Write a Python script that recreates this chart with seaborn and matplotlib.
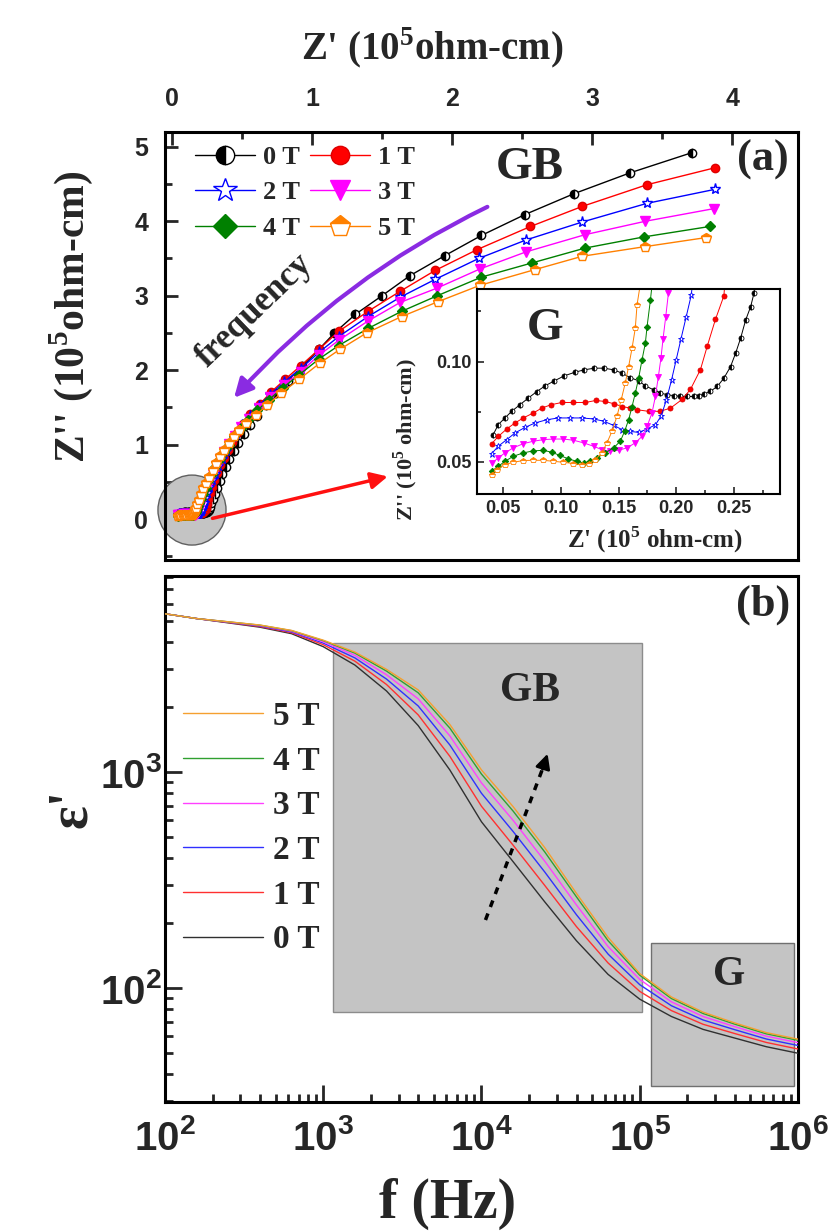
import numpy as np
import pandas as pd
import matplotlib
matplotlib.use('Agg')
import matplotlib.pyplot as plt
import seaborn as sns
from matplotlib.lines import Line2D
from matplotlib.patches import Ellipse, Rectangle, FancyArrowPatch
from matplotlib.ticker import MultipleLocator, FormatStrFormatter
from matplotlib import font_manager

# ---- panel (a): Nyquist data, Z' and Z'' in 10^5 ohm-cm ----
fields = ['0 T', '1 T', '2 T', '3 T', '4 T', '5 T']

zre_0 = [0.0413, 0.0457, 0.0515, 0.0573, 0.0645, 0.0717, 0.079, 0.0863, 0.0944, 0.103, 0.1123, 0.1204,
         0.1291, 0.137, 0.1457, 0.153, 0.160, 0.1674, 0.1732, 0.1804, 0.1863, 0.192, 0.1978, 0.2036,
         0.2094, 0.2152, 0.2196, 0.224, 0.2297, 0.2356, 0.2413, 0.2471, 0.2515, 0.2558, 0.2602, 0.2645, 0.2674,
         0.272, 0.28, 0.29, 0.305, 0.32, 0.34, 0.36, 0.385, 0.41, 0.44, 0.475, 0.515, 0.56, 0.61, 0.67,
         0.745, 0.825, 0.93, 1.05, 1.16, 1.31, 1.50, 1.70, 1.95, 2.21, 2.52, 2.87, 3.27, 3.71]
zim_0 = [0.0636, 0.0686, 0.0719, 0.0752, 0.0785, 0.0818, 0.085, 0.0879, 0.0904, 0.0929, 0.0947, 0.0959,
         0.0967, 0.0967, 0.0959, 0.0942, 0.092, 0.0904, 0.0879, 0.0859, 0.0843, 0.0835, 0.083, 0.0827,
         0.0826, 0.0826, 0.083, 0.0837, 0.0852, 0.0876, 0.0917, 0.0975, 0.1042, 0.1116, 0.1207, 0.1273, 0.134,
         0.16, 0.21, 0.27, 0.34, 0.42, 0.51, 0.60, 0.70, 0.80, 0.91, 1.02, 1.14, 1.26, 1.39, 1.53,
         1.69, 1.86, 2.05, 2.28, 2.50, 2.75, 3.00, 3.27, 3.54, 3.81, 4.09, 4.37, 4.65, 4.92]

zre_1 = [0.0399, 0.0457, 0.053, 0.0602, 0.0674, 0.0761, 0.0834, 0.0915, 0.1008, 0.1109, 0.121, 0.1303,
         0.1384, 0.1457, 0.153, 0.1603, 0.166, 0.176, 0.186, 0.195, 0.205, 0.2123, 0.221, 0.2268, 0.234, 0.2413,
         0.245, 0.25, 0.26, 0.27, 0.285, 0.30, 0.32, 0.345, 0.37, 0.40, 0.43, 0.465, 0.51, 0.56, 0.63,
         0.71, 0.81, 0.92, 1.05, 1.19, 1.40, 1.63, 1.88, 2.18, 2.56, 2.93, 3.39, 3.88]
zim_1 = [0.059, 0.0627, 0.0664, 0.0694, 0.0719, 0.0744, 0.0768, 0.0785, 0.0796, 0.0796, 0.0796, 0.0806,
         0.0801, 0.079, 0.0776, 0.0768, 0.076, 0.0752, 0.0752, 0.0768, 0.0811, 0.0861, 0.096, 0.1075, 0.121, 0.1327,
         0.16, 0.20, 0.27, 0.35, 0.43, 0.52, 0.62, 0.72, 0.82, 0.93, 1.04, 1.16, 1.28, 1.41, 1.55,
         1.71, 1.88, 2.06, 2.28, 2.52, 2.79, 3.06, 3.34, 3.62, 3.93, 4.20, 4.49, 4.72]

zre_2 = [0.0399, 0.0457, 0.053, 0.0602, 0.0689, 0.0776, 0.0877, 0.0978, 0.108, 0.1182, 0.1283, 0.137,
         0.1457, 0.153, 0.1602, 0.1674, 0.1747, 0.182, 0.187, 0.1915, 0.196, 0.200, 0.204, 0.2085, 0.213,
         0.22, 0.227, 0.237, 0.25, 0.265, 0.285, 0.305, 0.33, 0.355, 0.385, 0.415, 0.455, 0.50, 0.555, 0.62,
         0.70, 0.80, 0.92, 1.05, 1.19, 1.40, 1.63, 1.88, 2.19, 2.53, 2.93, 3.39, 3.88]
zim_2 = [0.0541, 0.0578, 0.0611, 0.0644, 0.0672, 0.0694, 0.071, 0.0719, 0.0719, 0.0719, 0.0714, 0.0703,
         0.0682, 0.0661, 0.0652, 0.0647, 0.0664, 0.0685, 0.073, 0.081, 0.091, 0.101, 0.111, 0.122, 0.133,
         0.17, 0.21, 0.28, 0.35, 0.43, 0.52, 0.61, 0.71, 0.81, 0.92, 1.03, 1.14, 1.26, 1.38, 1.52,
         1.67, 1.84, 2.02, 2.24, 2.45, 2.72, 2.98, 3.22, 3.50, 3.75, 3.99, 4.24, 4.43]

zre_3 = [0.0404, 0.0457, 0.0515, 0.0587, 0.0674, 0.0761, 0.0848, 0.0935, 0.1022, 0.1109, 0.1196, 0.1283,
         0.1356, 0.1428, 0.150, 0.1573, 0.1645, 0.1703, 0.1747, 0.179, 0.1819, 0.1845, 0.1868, 0.1885, 0.1909, 0.1932,
         0.198, 0.206, 0.218, 0.232, 0.25, 0.27, 0.295, 0.32, 0.345, 0.375, 0.41, 0.45, 0.495, 0.55, 0.62,
         0.70, 0.80, 0.92, 1.05, 1.19, 1.40, 1.63, 1.89, 2.20, 2.53, 2.95, 3.38, 3.87]
zim_3 = [0.0495, 0.052, 0.0545, 0.057, 0.0591, 0.0603, 0.0611, 0.0614, 0.0614, 0.0608, 0.0595, 0.0578,
         0.0561, 0.0553, 0.0558, 0.057, 0.0595, 0.0627, 0.0677, 0.0744, 0.0826, 0.0925, 0.102, 0.111, 0.1224, 0.134,
         0.17, 0.21, 0.27, 0.34, 0.42, 0.51, 0.60, 0.70, 0.80, 0.90, 1.01, 1.12, 1.23, 1.35, 1.49,
         1.64, 1.80, 1.98, 2.20, 2.40, 2.66, 2.91, 3.10, 3.36, 3.59, 3.82, 4.00, 4.17]

zre_4 = [0.0399, 0.0457, 0.0515, 0.0587, 0.0674, 0.0761, 0.0848, 0.0921, 0.0993, 0.1065, 0.1138, 0.1196,
         0.1254, 0.1312, 0.1384, 0.1457, 0.1515, 0.1552, 0.1587, 0.1617, 0.1645, 0.1674, 0.1703, 0.1732, 0.1747, 0.1776,
         0.185, 0.193, 0.205, 0.22, 0.24, 0.26, 0.285, 0.31, 0.34, 0.37, 0.405, 0.445, 0.49, 0.54, 0.61,
         0.69, 0.79, 0.91, 1.05, 1.19, 1.40, 1.64, 1.895, 2.21, 2.57, 2.95, 3.37, 3.84]
zim_4 = [0.0454, 0.0478, 0.0503, 0.0528, 0.0545, 0.0555, 0.0558, 0.0548, 0.0532, 0.0515, 0.0503, 0.0495,
         0.0503, 0.052, 0.0545, 0.057, 0.0603, 0.0652, 0.071, 0.0776, 0.0843, 0.0917, 0.1008, 0.1091, 0.1174, 0.1306,
         0.17, 0.21, 0.27, 0.34, 0.42, 0.51, 0.60, 0.70, 0.80, 0.90, 1.00, 1.11, 1.22, 1.33, 1.46,
         1.60, 1.76, 1.94, 2.15, 2.33, 2.56, 2.79, 3.00, 3.25, 3.44, 3.64, 3.79, 3.93]

zre_5 = [0.0399, 0.0443, 0.0515, 0.0587, 0.0674, 0.0761, 0.0848, 0.0935, 0.1022, 0.1109, 0.1182, 0.1245,
         0.1297, 0.1356, 0.1399, 0.1443, 0.1486, 0.1523, 0.1558, 0.1587, 0.1617, 0.1645, 0.166,
         0.172, 0.18, 0.19, 0.205, 0.225, 0.245, 0.265, 0.29, 0.315, 0.345, 0.375, 0.405, 0.44, 0.48, 0.53,
         0.60, 0.68, 0.78, 0.91, 1.06, 1.20, 1.39, 1.64, 1.90, 2.20, 2.59, 2.93, 3.38, 3.81]
zim_5 = [0.0437, 0.0462, 0.0487, 0.0498, 0.0507, 0.0508, 0.0508, 0.0503, 0.0498, 0.0492, 0.0485, 0.0492,
         0.0512, 0.0545, 0.0595, 0.0652, 0.0727, 0.081, 0.0893, 0.0975, 0.1067, 0.1166, 0.1282,
         0.15, 0.20, 0.26, 0.33, 0.41, 0.49, 0.57, 0.66, 0.75, 0.84, 0.93, 1.02, 1.11, 1.20, 1.29,
         1.40, 1.53, 1.69, 1.88, 2.10, 2.28, 2.50, 2.72, 2.92, 3.14, 3.35, 3.53, 3.66, 3.78]

# ---- panel (b): dielectric constant vs frequency ----
freq = [100, 158, 251, 398, 631, 1000, 1585, 2512, 3981, 6310, 10000, 15850, 25120, 39810,
        63100, 100000, 158500, 251200, 398100, 631000, 1000000]
eps_0 = [5395, 5129, 4898, 4677, 4365, 3802, 3126, 2371, 1641, 1023, 589, 385, 251, 166, 116, 89.1, 74.1, 64.6, 58.9, 53.7, 50.1]
eps_1 = [5395, 5129, 4915, 4710, 4411, 3882, 3258, 2541, 1839, 1183, 695, 459, 299, 193, 131, 96.8, 78.9, 68.2, 61.8, 56.2, 52.4]
eps_2 = [5395, 5129, 4931, 4738, 4449, 3950, 3373, 2692, 2022, 1335, 798, 531, 345, 219, 144, 104, 83.1, 71.4, 64.4, 58.3, 54.4]
eps_3 = [5395, 5129, 4943, 4760, 4480, 4004, 3467, 2818, 2182, 1471, 891, 598, 387, 243, 156, 110, 86.6, 74.1, 66.5, 60.1, 56.1]
eps_4 = [5395, 5129, 4951, 4778, 4506, 4052, 3550, 2931, 2327, 1597, 979, 660, 427, 265, 166, 115, 89.7, 76.5, 68.3, 61.6, 57.5]
eps_5 = [5395, 5129, 4955, 4786, 4519, 4074, 3589, 2985, 2399, 1660, 1023, 692, 447, 275, 172, 117, 91.2, 77.6, 69.2, 62.4, 58.2]

colors_a = ['#000000', '#ff0000', '#0000ff', '#ff00ff', '#008000', '#ff8000']
colors_b = ['#303030', '#ff3030', '#3030ff', '#ff40ff', '#30a030', '#f5a030']

# pick a condensed sans if one is installed, else plain Liberation Sans
installed = {f.name for f in font_manager.fontManager.ttflist}
SANS = next((n for n in ['Liberation Sans Narrow', 'DejaVu Sans Condensed', 'Liberation Sans']
             if n in installed), 'DejaVu Sans')
narrow = SANS != 'Liberation Sans'

sns.set_theme(style='white')
plt.rcParams['font.family'] = [SANS, 'DejaVu Sans']
plt.rcParams['font.weight'] = 'bold'
plt.rcParams['mathtext.fontset'] = 'custom'
plt.rcParams['mathtext.rm'] = 'Liberation Serif:bold'
plt.rcParams['mathtext.bf'] = 'Liberation Serif:bold'
plt.rcParams['axes.edgecolor'] = 'black'
plt.rcParams['axes.linewidth'] = 2.2
SERIF = 'Liberation Serif'

fig = plt.figure(figsize=(8.34, 12.32), dpi=100)
ax_a = fig.add_axes([0.1978, 0.5455, 0.759, 0.3474])
ax_b = fig.add_axes([0.1978, 0.1055, 0.759, 0.427])
ax_in = fig.add_axes([0.5716, 0.599, 0.3637, 0.1662])

zre = [zre_0, zre_1, zre_2, zre_3, zre_4, zre_5]
zim = [zim_0, zim_1, zim_2, zim_3, zim_4, zim_5]
mstyle = [
    dict(marker='o', fillstyle='left', mfc='black', mfcalt='white', mec='black'),
    dict(marker='o', mfc='#ff0000', mec='#dd0000'),
    dict(marker='*', mfc='white', mec='#0000ff'),
    dict(marker='v', mfc='#ff00ff', mec='#ff00ff'),
    dict(marker='D', mfc='#008000', mec='#008000'),
    dict(marker='p', fillstyle='top', mfc='#ff8000', mfcalt='white', mec='#ff8000'),
]
msize = [6, 6, 8, 6.5, 5.5, 7]

# ---- panel (a) ----
ax_a.add_patch(Ellipse((0.143, 0.12), 0.486, 0.94, fc='#c4c4c4', ec='#606060', lw=1,
                       zorder=1, clip_on=False))
handles = []
for i, lab in enumerate(fields):
    h, = ax_a.plot(zre[i], zim[i], color=colors_a[i], lw=1, ms=msize[i], mew=1,
                   label=lab, zorder=3 + i, **mstyle[i])
    handles.append(h)

ax_a.set_xlim(-0.05, 4.47)
ax_a.set_ylim(-0.55, 5.2)
ax_a.xaxis.set_major_locator(MultipleLocator(1))
ax_a.xaxis.set_minor_locator(MultipleLocator(0.5))
ax_a.yaxis.set_major_locator(MultipleLocator(1))
ax_a.yaxis.set_minor_locator(MultipleLocator(0.5))
ax_a.tick_params(axis='x', which='both', direction='in', top=True, bottom=False,
                 labeltop=True, labelbottom=False, width=2, labelsize=18, pad=15)
ax_a.tick_params(axis='y', which='both', direction='in', left=True, right=False,
                 width=2, labelsize=18, pad=12)
ax_a.tick_params(which='major', length=9)
ax_a.tick_params(which='minor', length=5)
ax_a.xaxis.set_label_position('top')
ax_a.set_xlabel("Z' (10$^5$ohm-cm)", family=SERIF, fontsize=28, fontweight='bold')
ax_a.xaxis.set_label_coords(0.422, 1.168)
ax_a.set_ylabel("Z'' (10$^5$ohm-cm)", family=SERIF, fontsize=30, fontweight='bold')
ax_a.yaxis.set_label_coords(-0.11, 0.568)

order = [0, 2, 4, 1, 3, 5]
ax_a.legend([handles[k] for k in order], [fields[k] for k in order], ncol=2,
            loc='upper left', bbox_to_anchor=(0.047, 0.968), borderaxespad=0, borderpad=0,
            frameon=False, prop=dict(family=SERIF, weight='bold', size=19),
            handlelength=2.3, handletextpad=0.3, columnspacing=0.35, labelspacing=0.45,
            markerscale=2.2)

ax_a.text(2.557, 4.71, 'GB', family=SERIF, fontsize=34, fontweight='bold', ha='center', va='center')
ax_a.text(4.22, 4.83, '(a)', family=SERIF, fontsize=32, fontweight='bold', ha='center', va='center')
ax_a.text(0.593, 2.80, 'frequency', family=SERIF, fontsize=25, fontweight='bold',
          ha='center', va='center', rotation=44)
ax_a.add_patch(FancyArrowPatch((2.27, 4.21), (0.43, 1.60), connectionstyle='arc3,rad=0.1',
                               arrowstyle='-|>', mutation_scale=28, color='#8a2be2', lw=3, zorder=10))
ax_a.add_patch(FancyArrowPatch((0.27, 0.0), (1.56, 0.58), arrowstyle='-|>', mutation_scale=25,
                               color='#ff1010', lw=2.5, zorder=10))

# ---- inset (G region) ----
for i, lab in enumerate(fields):
    ax_in.plot(zre[i], zim[i], color=colors_a[i], lw=0.7, ms=msize[i] * 0.6, mew=0.6, **mstyle[i])
ax_in.set_xlim(0.027, 0.29)
ax_in.set_ylim(0.034, 0.136)
ax_in.set_xticks([0.05, 0.10, 0.15, 0.20, 0.25])
ax_in.set_yticks([0.05, 0.10])
ax_in.xaxis.set_minor_locator(MultipleLocator(0.025))
ax_in.yaxis.set_minor_locator(MultipleLocator(0.025))
ax_in.xaxis.set_major_formatter(FormatStrFormatter('%.2f'))
ax_in.yaxis.set_major_formatter(FormatStrFormatter('%.2f'))
ax_in.tick_params(which='both', direction='in', left=True, bottom=True, width=1.2,
                  labelsize=13, pad=4, labelfontfamily='Liberation Sans')
ax_in.tick_params(which='major', length=5)
ax_in.tick_params(which='minor', length=3)
for s in ax_in.spines.values():
    s.set_linewidth(1.5)
ax_in.set_xlabel("Z' (10$^5$ ohm-cm)", family=SERIF, fontsize=18, fontweight='bold')
ax_in.xaxis.set_label_coords(0.588, -0.15)
ax_in.set_ylabel("Z'' (10$^5$ ohm-cm)", family=SERIF, fontsize=16, fontweight='bold')
ax_in.yaxis.set_label_coords(-0.187, 0.264)
ax_in.text(0.225, 0.806, 'G', transform=ax_in.transAxes, family=SERIF, fontsize=34,
           fontweight='bold', ha='center', va='center')

# ---- panel (b) ----
eps_all = [eps_0, eps_1, eps_2, eps_3, eps_4, eps_5]
df_b = pd.concat([pd.DataFrame({'f': freq, 'eps': e, 'field': fields[i]})
                  for i, e in enumerate(eps_all)], ignore_index=True)
ax_b.set_xscale('log')
ax_b.set_yscale('log')
ax_b.add_patch(Rectangle((1156, 78), 1.03e5 - 1156, 3940 - 78, fc='#c4c4c4', ec='#8c8c8c',
                         lw=1, zorder=0))
ax_b.add_patch(Rectangle((1.17e5, 35.4), 9.5e5 - 1.17e5, 162 - 35.4, fc='#c4c4c4', ec='#707070',
                         lw=1, zorder=0))
sns.lineplot(data=df_b, x='f', y='eps', hue='field', palette=colors_b, lw=1, legend=False,
             sort=False, estimator=None, ax=ax_b, zorder=3)
ax_b.set_xlim(1e2, 1e6)
ax_b.set_ylim(29.8, 8070)
ax_b.tick_params(which='both', direction='in', top=False, right=False, bottom=True, left=True, width=2)
ax_b.tick_params(which='major', length=12, labelsize=32 if narrow else 29)
ax_b.tick_params(which='minor', length=6)
ax_b.tick_params(axis='x', pad=12)
ax_b.tick_params(axis='y', pad=2)
ax_b.set_xlabel('f (Hz)', family=SERIF, fontsize=40, fontweight='bold')
ax_b.xaxis.set_label_coords(0.447, -0.144)
ax_b.set_ylabel("ε'", family=SERIF, fontsize=40, fontweight='bold')
ax_b.yaxis.set_label_coords(-0.06 if narrow else -0.105, 0.559)

ax_b.legend([Line2D([], [], color=colors_b[k], lw=1) for k in range(5, -1, -1)],
            [fields[k] for k in range(5, -1, -1)], loc='upper left',
            bbox_to_anchor=(0.028, 0.762), borderaxespad=0, borderpad=0, frameon=False,
            prop=dict(family=SERIF, weight='bold', size=24), handlelength=2.4,
            handletextpad=0.3, labelspacing=0.41)

ax_b.text(2.04e4, 2380, 'GB', family=SERIF, fontsize=30, fontweight='bold', ha='center', va='center')
ax_b.text(3.66e5, 115, 'G', family=SERIF, fontsize=30, fontweight='bold', ha='center', va='center')
ax_b.text(0.945, 0.945, '(b)', transform=ax_b.transAxes, family=SERIF, fontsize=32,
          fontweight='bold', ha='center', va='center')
ax_b.plot([1.06e4, 2.45e4], [207, 1050], color='black', lw=2.5, ls=(0, (2, 2)), zorder=6)
ax_b.annotate('', xy=(2.65e4, 1250), xytext=(2.4e4, 1000),
              arrowprops=dict(arrowstyle='-|>', color='black', lw=2, mutation_scale=22), zorder=6)

fig.savefig('out.png', dpi=100)
